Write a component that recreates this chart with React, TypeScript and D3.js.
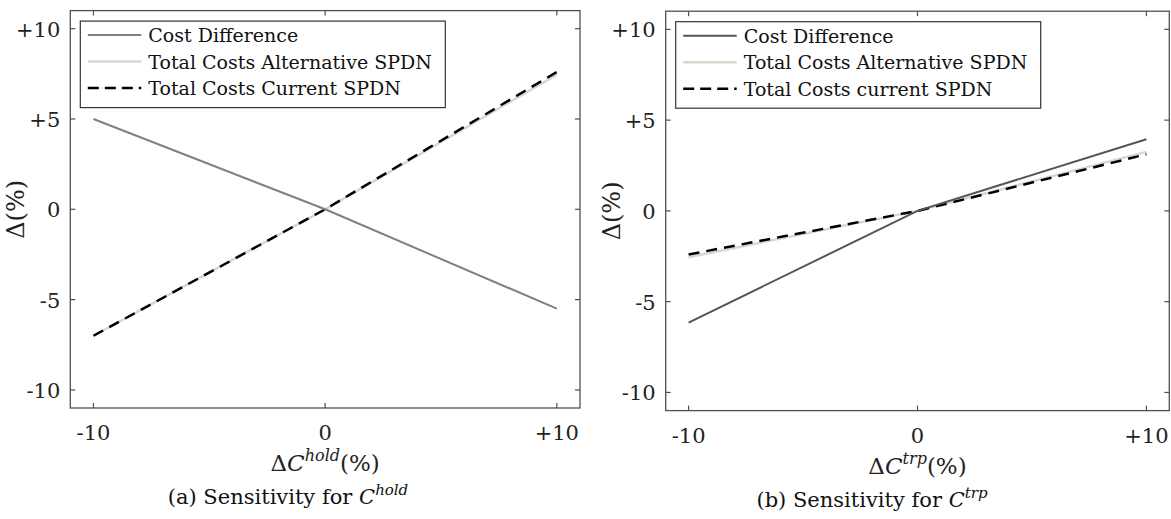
import React from "react";
import * as d3 from "d3";

const xValues = [-10, 0, 10];
const holdCostDiff = [5, 0, -5.5];
const holdAlt = [-7, 0, 7.45];
const holdCurrent = [-7, 0, 7.6];
const trpCostDiff = [-6.15, 0, 3.95];
const trpAlt = [-2.55, 0, 3.25];
const trpCurrent = [-2.4, 0, 3.12];

const xTicks = [-10, 0, 10];
const xTickLabels = ["-10", "0", "+10"];
const yTicks = [10, 5, 0, -5, -10];
const yTickLabels = ["+10", "+5", "0", "-5", "-10"];

const legendHold = ["Cost Difference", "Total Costs Alternative SPDN", "Total Costs Current SPDN"];
const legendTrp = ["Cost Difference", "Total Costs Alternative SPDN", "Total Costs current SPDN"];

const FONT = "DejaVu Serif, serif";

type PanelProps = {
  x0: number; x1: number; y0: number; y1: number;
  costDiff: number[]; alt: number[]; current: number[];
  costColor: string; legend: string[]; sup: string; letter: string; capCenter: number;
};

function Panel(p: PanelProps) {
  const x = d3.scaleLinear().domain([-11, 11]).range([p.x0, p.x1]);
  const y = d3.scaleLinear().domain([-11, 11]).range([p.y1, p.y0]);
  const line = d3.line<[number, number]>().x((d) => x(d[0])).y((d) => y(d[1]));
  const pts = (vals: number[]) => xValues.map((v, i) => [v, vals[i]] as [number, number]);
  const axisColor = "#505050";
  const tl = 5;
  const lx = p.x0 + 10;
  const ly0 = p.y0 + 10.5;
  const rowY = [p.y0 + 24.5, p.y0 + 51, p.y0 + 77.5];
  const midX = (p.x0 + p.x1) / 2;
  const midY = (p.y0 + p.y1) / 2;
  const series = [
    { color: p.costColor, dash: false, w: 2 },
    { color: "#d9d6cc", dash: false, w: 2.5 },
    { color: "#000000", dash: true, w: 2.5 },
  ];
  const ff = { fontFamily: FONT };
  return (
    <g>
      <path d={line(pts(p.alt)) || ""} fill="none" stroke="#d9d6cc" strokeWidth={2.5} />
      <path d={line(pts(p.current)) || ""} fill="none" stroke="#000" strokeWidth={2.5} strokeDasharray="11,7" />
      <path d={line(pts(p.costDiff)) || ""} fill="none" stroke={p.costColor} strokeWidth={2} />
      <rect x={p.x0} y={p.y0} width={p.x1 - p.x0} height={p.y1 - p.y0} fill="none" stroke={axisColor} strokeWidth={1.3} />
      {xTicks.map((t, i) => (
        <g key={"xt" + i}>
          <line x1={x(t)} x2={x(t)} y1={p.y1} y2={p.y1 - tl} stroke={axisColor} strokeWidth={1.2} />
          <line x1={x(t)} x2={x(t)} y1={p.y0} y2={p.y0 + tl} stroke={axisColor} strokeWidth={1.2} />
          <text x={x(t)} y={p.y1 + 32} textAnchor="middle" fontSize={21} style={ff} fill="#222">{xTickLabels[i]}</text>
        </g>
      ))}
      {yTicks.map((t, i) => (
        <g key={"yt" + i}>
          <line x1={p.x0} x2={p.x0 + tl} y1={y(t)} y2={y(t)} stroke={axisColor} strokeWidth={1.2} />
          <line x1={p.x1} x2={p.x1 - tl} y1={y(t)} y2={y(t)} stroke={axisColor} strokeWidth={1.2} />
          <text x={p.x0 - 10} y={y(t) + 8} textAnchor="end" fontSize={21} style={ff} fill="#222">{yTickLabels[i]}</text>
        </g>
      ))}
      <rect x={lx} y={ly0} width={365} height={86.5} fill="#fff" stroke="#333" strokeWidth={1.2} />
      {p.legend.map((s, i) => (
        <g key={"lg" + i}>
          <line x1={lx + 7.5} x2={lx + 61} y1={rowY[i]} y2={rowY[i]} stroke={series[i].color} strokeWidth={series[i].w} strokeDasharray={series[i].dash ? "11,6" : undefined} />
          <text x={lx + 68} y={rowY[i] + 7} fontSize={19} style={ff} fill="#111">{s}</text>
        </g>
      ))}
      <text x={midX} y={p.y1 + 63} textAnchor="middle" fontSize={23} style={ff} fill="#222">
        Δ<tspan fontStyle="italic">C</tspan>
        <tspan fontStyle="italic" fontSize={16} dy={-10}>{p.sup}</tspan>
        <tspan dy={10}>(%)</tspan>
      </text>
      <text transform={`translate(${p.x0 - 46},${midY}) rotate(-90)`} textAnchor="middle" fontSize={24} style={ff} fill="#222">Δ(%)</text>
      <text x={p.capCenter} y={p.y1 + 96} textAnchor="middle" fontSize={21} style={ff} fill="#111">
        ({p.letter}) Sensitivity for <tspan fontStyle="italic">C</tspan>
        <tspan fontStyle="italic" fontSize={15} dy={-9}>{p.sup}</tspan>
      </text>
    </g>
  );
}

export default function App() {
  return (
    <svg width={1171} height={519} style={{ position: "absolute", left: 0, top: 0, background: "#fff" }}>
      <rect width={1171} height={519} fill="#fff" />
      <Panel x0={70.3} x1={580} y0={10.6} y1={408} costDiff={holdCostDiff} alt={holdAlt} current={holdCurrent}
        costColor="#808080" legend={legendHold} sup="hold" letter="a" capCenter={288} />
      <Panel x0={665.7} x1={1169.3} y0={11.2} y1={410.6} costDiff={trpCostDiff} alt={trpAlt} current={trpCurrent}
        costColor="#555555" legend={legendTrp} sup="trp" letter="b" capCenter={872} />
    </svg>
  );
}
